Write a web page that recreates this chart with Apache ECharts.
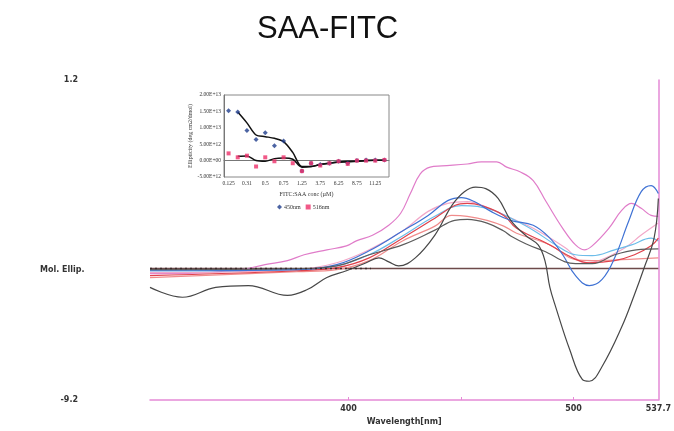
<!DOCTYPE html>
<html><head><meta charset="utf-8">
<script src="https://cdn.jsdelivr.net/npm/echarts@6/dist/echarts.min.js"></script>
<style>html,body{margin:0;padding:0;background:#fff}#c{width:674px;height:431px}</style>
</head><body><div id="c"></div>
<script>
// ---- main spectra: [wavelength nm, Mol. Ellip.] ----
const curveMagenta = [[311.8,-5.09],[326.2,-5.09],[352.4,-4.96],[362.9,-4.80],[372.9,-4.67],[380.3,-4.48],[390.4,-4.32],[399.1,-4.19],[403.5,-4.03],[410.9,-3.84],[417.9,-3.52],[423.2,-3.13],[427.5,-2.49],[431.9,-1.85],[436.3,-1.63],[441.5,-1.59],[452.8,-1.53],[459.0,-1.46],[465.9,-1.46],[470.3,-1.63],[476.4,-1.79],[482.1,-2.07],[487.8,-2.75],[495.2,-3.62],[500.9,-4.16],[504.8,-4.32],[508.3,-4.19],[515.7,-3.62],[521.4,-3.04],[525.8,-2.81],[530.1,-2.97],[534.5,-3.20],[537.7,-3.23]];
const curveBlackWavy = [[311.8,-5.54],[326.2,-5.86],[341.0,-5.54],[355.5,-5.48],[372.9,-5.80],[381.7,-5.61],[390.4,-5.22],[399.1,-5.00],[407.9,-4.74],[413.5,-4.58],[417.9,-4.71],[422.3,-4.84],[429.7,-4.58],[438.4,-3.84],[445.9,-2.88],[451.5,-2.43],[456.5,-2.28],[461.0,-2.33],[466.5,-2.65],[472.1,-3.36],[479.0,-3.87],[484.3,-4.16],[487.3,-4.67],[489.5,-5.54],[492.1,-6.18],[498.3,-7.56],[503.9,-8.53],[507.0,-8.59],[512.7,-8.11],[521.4,-6.83],[527.1,-5.77],[531.4,-4.90],[535.8,-3.94],[537.7,-2.65]];
const curveGrey = [[311.8,-4.96],[377.3,-4.93],[394.8,-4.84],[409.2,-4.48],[424.0,-4.16],[438.4,-3.68],[447.2,-3.36],[452.8,-3.33],[461.6,-3.45],[469.0,-3.71],[472.1,-3.87],[479.0,-4.13],[486.5,-4.35],[500.9,-4.77],[508.3,-4.77],[518.3,-4.48],[527.9,-4.32],[537.7,-4.29]];
const curveBlue = [[311.8,-5.00],[377.3,-4.96],[394.8,-4.80],[409.2,-4.35],[424.0,-3.71],[435.4,-3.20],[444.1,-2.72],[450.2,-2.62],[455.9,-2.75],[463.3,-3.07],[472.1,-3.36],[482.1,-3.52],[489.5,-3.94],[495.2,-4.48],[500.9,-5.16],[507.0,-5.48],[512.7,-5.28],[518.3,-4.58],[524.5,-3.39],[530.1,-2.43],[534.5,-2.23],[537.7,-2.49]];
const curveLightBlue = [[311.8,-5.00],[377.3,-4.96],[394.8,-4.84],[409.2,-4.48],[424.0,-3.87],[438.4,-3.23],[450.2,-2.88],[457.2,-2.91],[464.6,-3.04],[472.1,-3.29],[482.1,-3.68],[492.1,-4.16],[500.9,-4.48],[508.3,-4.51],[518.3,-4.32],[525.8,-4.16],[534.5,-3.94],[537.7,-4.03]];
const curveRed = [[311.8,-5.16],[377.3,-5.00],[394.8,-4.90],[409.2,-4.58],[424.0,-3.94],[438.4,-3.29],[447.2,-2.88],[452.8,-2.81],[459.0,-2.88],[469.0,-3.20],[474.7,-3.62],[489.5,-4.16],[499.6,-4.58],[507.0,-4.74],[518.3,-4.67],[527.1,-4.48],[534.5,-4.19],[537.7,-3.94]];
const curveSalmon = [[311.8,-5.22],[377.3,-5.03],[394.8,-4.96],[409.2,-4.67],[424.0,-4.03],[438.4,-3.55],[445.9,-3.20],[452.8,-3.23],[461.6,-3.36],[469.0,-3.55],[474.7,-3.78],[489.5,-4.16],[500.9,-4.64],[508.3,-4.67],[521.4,-4.64],[537.7,-4.58]];
const curveLightPink = [[311.8,-5.06],[377.3,-4.96],[394.8,-4.74],[409.2,-4.32],[424.0,-3.71],[435.4,-3.07],[444.1,-2.81],[452.8,-2.75],[462.4,-2.97],[472.1,-3.29],[482.1,-3.62],[496.5,-4.26],[505.2,-4.74],[511.4,-4.67],[522.7,-4.26],[530.1,-3.84],[537.7,-3.45]];
const baselineSolid = [[311.8,-4.93],[537.7,-4.93]];
const baselineDotted = [[311.8,-4.93],[410,-4.93]];
const xTickValues = [400,450,500];
const xLabelValues = [400,500,537.7];
const yLabelValues = [1.2,-9.2];

// ---- inset ----
const insetCats = ['0.125','0.25','0.31','0.375','0.5','0.625','0.75','1','1.25','2.5','3.75','5','6.25','7.5','8.75','10','11.25','12.5'];
const pts450 = [1.52e13,1.48e13,0.92e13,0.64e13,0.85e13,0.45e13,0.60e13,null,-0.32e13,-0.08e13,-0.12e13,-0.08e13,-0.02e13,-0.08e13,0,0.02e13,0.02e13,0.02e13];
const pts516 = [0.22e13,0.10e13,0.15e13,-0.18e13,0.10e13,-0.02e13,0.10e13,-0.08e13,-0.32e13,-0.08e13,-0.15e13,-0.08e13,-0.02e13,-0.10e13,0,0,0,0.02e13];
const trend450 = [null,1.48e13,1.15e13,0.78e13,0.73e13,0.68e13,0.58e13,0.25e13,-0.18e13,-0.18e13,-0.12e13,-0.08e13,-0.04e13,-0.02e13,-0.02e13,0,0.01e13,0.01e13];
const trend516 = [null,0.13e13,0.14e13,0,-0.02e13,0.06e13,0.08e13,0.04e13,-0.20e13,-0.18e13,-0.12e13,-0.08e13,-0.05e13,-0.04e13,-0.02e13,0,0.01e13,0.01e13];

function sci(v){
  if (v === 0) return '0.00E+00';
  return v.toExponential(2).toUpperCase();
}
function spec(name, data, color, w){
  return {name, type:'line', xAxisIndex:0, yAxisIndex:0, data, smooth:0.4, showSymbol:false,
    lineStyle:{color, width:w||1.2}, silent:true, z:3};
}
const chart = echarts.init(document.getElementById('c'));
const pink = '#e58ad6';
chart.setOption({
  animation:false,
  title:{text:'SAA-FITC', left:252, top:9, textStyle:{fontFamily:'Liberation Sans, Arial, sans-serif', fontWeight:'normal', fontSize:31, color:'#111'}},
  graphic:[{type:'text', left:40, top:266, style:{text:'Mol. Ellip.', font:'bold 8px "DejaVu Sans", sans-serif', fill:'#333'}}],
  legend:{data:[{name:'450nm', icon:'diamond'},{name:'516nm', icon:'rect'}], left:272, top:199, itemWidth:5, itemHeight:5, itemGap:5,
    textStyle:{fontFamily:'Liberation Serif, serif', fontSize:6, color:'#333', padding:[0,0,0,-3]}},
  grid:[
    {left:150, right:6, top:80, bottom:27, show:false},
    {left:224, right:285, top:95, bottom:254, show:true, borderColor:'#888', borderWidth:1, backgroundColor:'#fff', z:5}
  ],
  xAxis:[
    {type:'value', gridIndex:0, min:311.8, max:537.7, name:'Wavelength[nm]', nameLocation:'middle', nameGap:18,
      nameTextStyle:{fontFamily:'DejaVu Sans, sans-serif', fontWeight:'bold', fontSize:8, color:'#333'},
      axisLine:{show:true, onZero:false, lineStyle:{color:pink, width:1.5}},
      axisTick:{show:true, inside:true, length:3, customValues:xTickValues, lineStyle:{color:pink}},
      axisLabel:{customValues:xLabelValues, margin:5, fontFamily:'DejaVu Sans, sans-serif', fontWeight:'bold', fontSize:8, color:'#333',
        formatter:v=>String(v)},
      splitLine:{show:false}},
    {type:'category', gridIndex:1, data:insetCats, boundaryGap:true,
      axisLine:{onZero:true, lineStyle:{color:'#777'}}, axisTick:{show:false},
      axisLabel:{interval:1, fontFamily:'Liberation Serif, serif', fontSize:5.5, color:'#333', margin:4},
      name:'FITC:SAA conc (µM)', nameLocation:'middle', nameGap:14,
      nameTextStyle:{fontFamily:'Liberation Serif, serif', fontSize:6, color:'#333'}, z:6}
  ],
  yAxis:[
    {type:'value', gridIndex:0, min:-9.2, max:1.2, axisLine:{show:false}, axisTick:{show:false}, splitLine:{show:false},
      axisLabel:{customValues:yLabelValues, margin:72, fontFamily:'DejaVu Sans, sans-serif', fontWeight:'bold', fontSize:8, color:'#333'}},
    {type:'value', gridIndex:0, position:'right', min:-9.2, max:1.2, axisLine:{show:true, onZero:false, lineStyle:{color:pink, width:1.5}},
      axisTick:{show:false}, axisLabel:{show:false}, splitLine:{show:false}},
    {type:'value', gridIndex:1, min:-5e12, max:2e13, interval:5e12,
      axisLine:{show:true, lineStyle:{color:'#777'}}, axisTick:{show:false}, splitLine:{show:false},
      axisLabel:{formatter:sci, fontFamily:'Liberation Serif, serif', fontSize:5.5, color:'#333', margin:3},
      name:'Ellipticity (deg cm2/dmol)', nameLocation:'middle', nameGap:31,
      nameTextStyle:{fontFamily:'Liberation Serif, serif', fontSize:6, color:'#333'}, z:6}
  ],
  series:[
    spec('magenta', curveMagenta, '#e07cc9'),
    spec('lightpink', curveLightPink, '#f2a8c8'),
    spec('salmon', curveSalmon, '#f08c8c'),
    spec('lightblue', curveLightBlue, '#6dbde9'),
    spec('red', curveRed, '#e0424c'),
    spec('blue', curveBlue, '#3f72d4'),
    spec('grey', curveGrey, '#5c5c5c'),
    spec('blackwavy', curveBlackWavy, '#474747'),
    {name:'baseline', type:'line', xAxisIndex:0, yAxisIndex:0, data:baselineSolid, showSymbol:false, silent:true, lineStyle:{color:'#6d4a4a', width:1.5}, z:2},
    {name:'baselineDot', type:'line', xAxisIndex:0, yAxisIndex:0, data:baselineDotted, showSymbol:false, silent:true, lineStyle:{color:'#3a2a2a', width:1.5, type:[2,3]}, z:4},
    {name:'450nm', type:'scatter', xAxisIndex:1, yAxisIndex:2, data:pts450, symbol:'diamond', symbolSize:5, itemStyle:{color:'#1f3d8c'}, z:7},
    {name:'516nm', type:'scatter', xAxisIndex:1, yAxisIndex:2, data:pts516, symbol:'rect', symbolSize:4, itemStyle:{color:'#ee2f6a'}, z:7},
    {name:'t450', type:'line', xAxisIndex:1, yAxisIndex:2, data:trend450, smooth:0.3, showSymbol:false, lineStyle:{color:'#111', width:1.5}, z:6},
    {name:'t516', type:'line', xAxisIndex:1, yAxisIndex:2, data:trend516, smooth:0.3, showSymbol:false, lineStyle:{color:'#111', width:1.5}, z:6}
  ]
});
</script></body></html>
